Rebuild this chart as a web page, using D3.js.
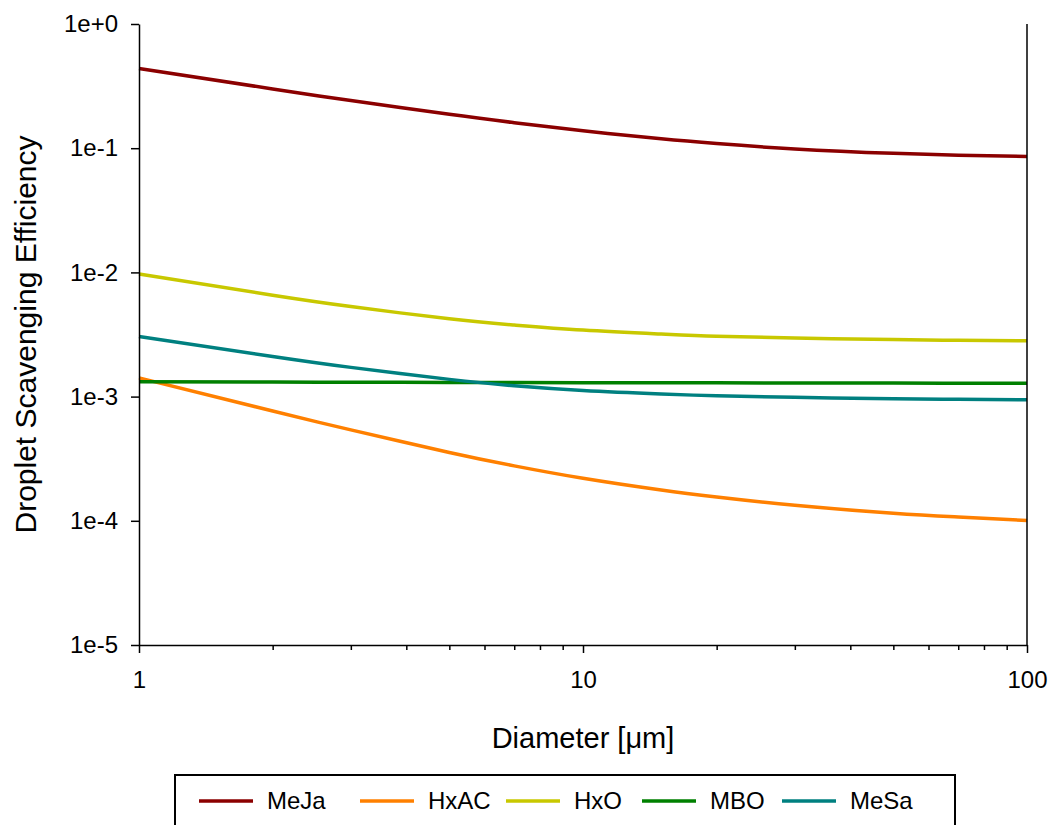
<!DOCTYPE html>
<html>
<head>
<meta charset="utf-8">
<script src="https://cdn.jsdelivr.net/npm/d3@7"></script>
<style>
  html, body { margin: 0; padding: 0; background: #fff; }
  svg { display: block; font-family: "Liberation Sans", Arial, sans-serif; }
</style>
</head>
<body>
<svg id="chart" width="1051" height="825"></svg>
<script>
// Droplet diameters (µm) at which each efficiency curve is sampled
const diameters = [1, 2, 3, 5, 7, 10, 15, 20, 30, 50, 70, 100];

// Scavenging efficiency per compound
const meJa = [0.439, 0.300, 0.242, 0.1873, 0.1606, 0.1381, 0.1189, 0.1089, 0.0987, 0.0909, 0.0878, 0.0859];
const hxAC = [0.001416, 0.000765, 0.000540, 0.000355, 0.000277, 0.000220, 0.000177, 0.0001556, 0.0001334, 0.0001149, 0.0001072, 0.0001005];
const hxO  = [0.00969, 0.00655, 0.00531, 0.00423, 0.00377, 0.00343, 0.00319, 0.00306, 0.00296, 0.00288, 0.00284, 0.00281];
const mbo  = [0.001315, 0.00131, 0.001305, 0.0013, 0.001298, 0.001295, 0.001292, 0.00129, 0.001288, 0.001285, 0.001283, 0.00128];
const meSa = [0.00305, 0.002105, 0.001719, 0.001376, 0.001222, 0.001120, 0.001050, 0.001015, 0.000986, 0.000962, 0.000951, 0.000942];

const seriesNames  = ["MeJa", "HxAC", "HxO", "MBO", "MeSa"];
const seriesValues = [meJa, hxAC, hxO, mbo, meSa];
const seriesColors = ["#8b0000", "#ff8000", "#c8c800", "#008000", "#008080"];

const yTickValues = [1, 1e-1, 1e-2, 1e-3, 1e-4, 1e-5];
const yTickLabels = ["1e+0", "1e-1", "1e-2", "1e-3", "1e-4", "1e-5"];
const xMajorTicks = [1, 10, 100];
const xMinorTicks = [2, 3, 4, 5, 6, 7, 8, 9, 20, 30, 40, 50, 60, 70, 80, 90];

const svg = d3.select("#chart");
const plot = { left: 139, right: 1027, top: 24, bottom: 645 };

const x = d3.scaleLog().domain([1, 100]).range([plot.left, plot.right]);
const y = d3.scaleLog().domain([1e-5, 1]).range([plot.bottom, plot.top]);

// Smooth curves through the sampled points
const line = d3.line()
  .x(d => x(d[0]))
  .y(d => y(d[1]))
  .curve(d3.curveNatural);

const curves = svg.append("g");
seriesValues.forEach((vals, i) => {
  curves.append("path")
    .datum(diameters.map((d, j) => [d, vals[j]]))
    .attr("fill", "none")
    .attr("stroke", seriesColors[i])
    .attr("stroke-width", 3.5)
    .attr("d", line);
});

// Right frame edge
svg.append("line")
  .attr("x1", plot.right).attr("x2", plot.right)
  .attr("y1", plot.top).attr("y2", plot.bottom)
  .attr("stroke", "#000").attr("stroke-width", 1.5);

// Y axis
const yAxis = d3.axisLeft(y)
  .tickValues(yTickValues)
  .tickFormat((d, i) => yTickLabels[i])
  .tickSize(8)
  .tickPadding(13)
  .tickSizeOuter(0);
const gy = svg.append("g").attr("transform", `translate(${plot.left},0)`).call(yAxis);
gy.select(".domain").attr("stroke-width", 1.5);
gy.selectAll(".tick line").attr("stroke-width", 1.5);
gy.selectAll(".tick text").attr("font-size", 24).attr("fill", "#000")
  .attr("font-family", "Liberation Sans, Arial, sans-serif");

// X axis: major ticks with labels, minor ticks shorter
const xAxis = d3.axisBottom(x)
  .tickValues(xMajorTicks)
  .tickFormat(d3.format("d"))
  .tickSize(8)
  .tickPadding(18)
  .tickSizeOuter(0);
const gx = svg.append("g").attr("transform", `translate(0,${plot.bottom})`).call(xAxis);
gx.select(".domain").attr("stroke-width", 1.5);
gx.selectAll(".tick line").attr("stroke-width", 1.5);
gx.selectAll(".tick text").attr("font-size", 24).attr("fill", "#000")
  .attr("font-family", "Liberation Sans, Arial, sans-serif");

const xMinor = d3.axisBottom(x).tickValues(xMinorTicks).tickFormat("").tickSize(5).tickSizeOuter(0);
const gxm = svg.append("g").attr("transform", `translate(0,${plot.bottom})`).call(xMinor);
gxm.select(".domain").remove();
gxm.selectAll(".tick line").attr("stroke-width", 1.5);

// Axis titles
svg.append("text")
  .attr("x", (plot.left + plot.right) / 2)
  .attr("y", 748)
  .attr("text-anchor", "middle")
  .attr("font-size", 29)
  .text("Diameter [μm]");

svg.append("text")
  .attr("transform", `translate(36,${(plot.top + plot.bottom) / 2}) rotate(-90)`)
  .attr("text-anchor", "middle")
  .attr("font-size", 30)
  .text("Droplet Scavenging Efficiency");

// Legend
const legend = svg.append("g");
legend.append("rect")
  .attr("x", 175).attr("y", 775)
  .attr("width", 780).attr("height", 80)
  .attr("fill", "#fff").attr("stroke", "#000").attr("stroke-width", 2);

const legendLineX = [199, 360, 506, 642, 782];
seriesNames.forEach((name, i) => {
  const lx = legendLineX[i];
  legend.append("line")
    .attr("x1", lx).attr("x2", lx + 54)
    .attr("y1", 801).attr("y2", 801)
    .attr("stroke", seriesColors[i]).attr("stroke-width", 3.5);
  legend.append("text")
    .attr("x", lx + 68).attr("y", 809)
    .attr("font-size", 24)
    .text(name);
});
</script>
</body>
</html>
